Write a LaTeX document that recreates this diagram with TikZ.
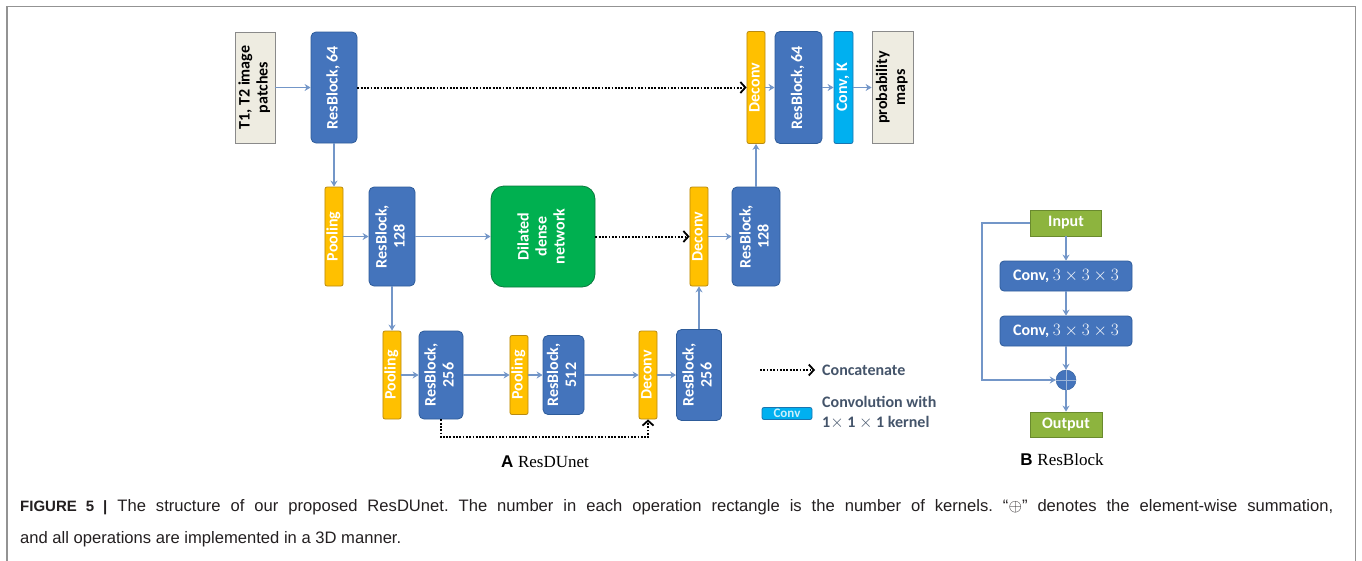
\documentclass[tikz,border=0pt]{standalone}
\usepackage{fontspec}
\setmainfont{Carlito}
\newfontfamily\capsans{Liberation Sans}
\newfontfamily\capserif{Liberation Serif}
\usepackage{graphicx}
\usetikzlibrary{arrows.meta,positioning}
\definecolor{blkfill}{HTML}{4474BC}
\definecolor{blkline}{HTML}{2E5C9A}
\definecolor{yelfill}{HTML}{FFC000}
\definecolor{yelline}{HTML}{B98A10}
\definecolor{dilfill}{HTML}{00B050}
\definecolor{dilline}{HTML}{0A7A3E}
\definecolor{cyfill}{HTML}{00B0F0}
\definecolor{cyline}{HTML}{1A75B0}
\definecolor{gryfill}{HTML}{EEECE1}
\definecolor{gryline}{HTML}{8A8A8A}
\definecolor{grnfill}{HTML}{8DB43E}
\definecolor{grnline}{HTML}{6A8A2E}
\definecolor{arrowc}{HTML}{7396C8}
\definecolor{legc}{HTML}{44546A}
\definecolor{captxt}{HTML}{231F20}
\newcommand{\rot}[1]{\rotatebox{90}{\renewcommand{\arraystretch}{0.95}\begin{tabular}{@{}c@{}}#1\end{tabular}}}

\begin{document}
\frenchspacing
\begin{tikzpicture}
[
    x = 1pt, y = -1pt,
    every node/.style = {inner sep = 0pt, font = \fontsize{16}{19}\selectfont\bfseries},
    wh/.style 2 args = {minimum width = #1pt, minimum height = #2pt},
    resblk/.style = {draw = blkline, fill = blkfill, text = white, line width = 0.8pt, rounded corners = 5pt},
    yelblk/.style = {draw = yelline, fill = yelfill, text = white, line width = 0.8pt, rounded corners = 2pt},
    convblk/.style = {draw = cyline, fill = cyfill, text = white, line width = 0.8pt, rounded corners = 2pt},
    grybox/.style = {draw = gryline, fill = gryfill, text = black, line width = 0.8pt},
    dilblk/.style = {draw = dilline, fill = dilfill, text = white, line width = 0.8pt, rounded corners = 13pt},
    grnblk/.style = {draw = grnline, fill = grnfill, text = white, line width = 0.8pt},
    flow/.style = {draw = arrowc, line width = 1.4pt, -{Stealth[length = 6pt, width = 7pt]}},
    concat/.style = {draw = black, line width = 2pt, dash pattern = on 1.8pt off 1.5pt, -{Straight Barb[length = 5pt, width = 11pt, line width = 1.8pt]}},
    legtext/.style = {text = legc, align = left}
]
\useasboundingbox (0,0) rectangle (1362,560);
\draw[gray!85, line width = 1.5pt] (7,570) -- (7,6.5) -- (1355.5,6.5) -- (1355.5,570);

% top row
\node[grybox, wh = {40}{111}] (inp) at (255,87.5) {\rot{T1, T2 image\\ patches}};
\node[resblk, wh = {46}{111}] (rb64a) at (334,87.5) {\rot{ResBlock, 64}};
\node[yelblk, wh = {18}{112}] (dcA) at (756,87.5) {\rot{Deconv}};
\node[resblk, wh = {47}{112}] (rb64b) at (798.5,87.5) {\rot{ResBlock, 64}};
\node[convblk, wh = {19}{112}] (convk) at (843.5,87.5) {\rot{Conv, K}};
\node[grybox, wh = {41}{112}] (prob) at (892.5,87.5) {\rot{probability\\ maps}};

% middle row
\node[yelblk, wh = {17}{99}] (poolA) at (334,236.5) {\rot{Pooling}};
\node[resblk, wh = {46}{99}] (rb128a) at (392,236.5) {\rot{ResBlock,\\ 128}};
\node[dilblk, wh = {104}{101}] (dil) at (543,236.5) {\rot{Dilated\\ dense\\ network}};
\node[yelblk, wh = {18}{99}] (dcB) at (699,236.5) {\rot{Deconv}};
\node[resblk, wh = {48}{99}] (rb128b) at (756,236.5) {\rot{ResBlock,\\ 128}};

% bottom row
\node[yelblk, wh = {18}{88}] (poolB) at (392,375) {\rot{Pooling}};
\node[resblk, wh = {44}{88}] (rb256a) at (441,375) {\rot{ResBlock,\\ 256}};
\node[yelblk, wh = {18}{79}] (poolC) at (519,375) {\rot{Pooling}};
\node[resblk, wh = {41}{79}] (rb512) at (563.5,375) {\rot{ResBlock,\\ 512}};
\node[yelblk, wh = {18}{88}] (dcC) at (648,375) {\rot{Deconv}};
\node[resblk, wh = {45}{91}] (rb256b) at (699,375) {\rot{ResBlock,\\ 256}};

\draw[flow] (inp) -- (rb64a);
\draw[concat] (rb64a) -- (dcA);
\draw[flow] (dcA) -- (rb64b);
\draw[flow] (rb64b) -- (convk);
\draw[flow] (convk) -- (prob);
\draw[flow] (rb64a) -- (poolA);
\draw[flow] (poolA) -- (rb128a);
\draw[flow] (rb128a) -- (dil);
\draw[concat] (dil) -- (dcB);
\draw[flow] (dcB) -- (rb128b);
\draw[flow] (rb128b) -- (dcA);
\draw[flow] (rb128a) -- (poolB);
\draw[flow] (poolB) -- (rb256a);
\draw[flow] (rb256a) -- (poolC);
\draw[flow] (poolC) -- (rb512);
\draw[flow] (rb512) -- (dcC);
\draw[flow] (dcC) -- (rb256b);
\draw[flow] (rb256b) -- (dcB);
\draw[concat] (rb256a.south) -- ++(0,18) -| (dcC.south);

\node[font = \fontsize{17}{20}\selectfont] (labA) at (545,462) {\capsans\bfseries A\ \capserif\mdseries ResDUnet};

% legend
\coordinate (lgA) at (760,370);
\coordinate (lgB) at (815,370);
\draw[concat] (lgA) -- (lgB);
\node[legtext, anchor = west] (lgcat) at (822,370) {Concatenate};
\node[convblk, wh = {50}{12}, font = \fontsize{13}{12}\selectfont\bfseries, text = white!80!cyfill] (lgconv) at (787,413.5) {Conv};
\node[legtext, anchor = west, font = \fontsize{16}{20}\selectfont\bfseries] (lgconvtxt) at (822,413) {Convolution with\\ 1$\times$ 1 $\times$ 1 kernel};

% ResBlock panel
\node[grnblk, wh = {71}{26}] (in) at (1066,223) {Input};
\node[resblk, wh = {132}{30}, rounded corners = 4pt] (c1) at (1066,276) {Conv, $3\times3\times3$};
\node[resblk, wh = {132}{30}, rounded corners = 4pt] (c2) at (1066,331) {Conv, $3\times3\times3$};
\node[circle, draw = blkline, fill = blkfill, minimum size = 20pt] (sum) at (1066,380) {};
\node[grnblk, wh = {72}{25}] (out) at (1066,424.5) {Output};
\coordinate (skip) at (982,380);
\draw[arrowc!70, line width = 1pt] (sum.north) -- (sum.south) (sum.west) -- (sum.east);
\draw[flow] (in) -- (c1);
\draw[flow] (c1) -- (c2);
\draw[flow] (c2) -- (sum);
\draw[flow] (sum) -- (out);
\draw[flow] (in.west) -| (skip) -- (sum.west);

\node[font = \fontsize{17}{20}\selectfont] (labB) at (1062,460) {\capsans\bfseries B\ \capserif\mdseries ResBlock};

% caption
\node[anchor = base west, text = captxt, font = \capsans\fontsize{16.6}{19}\selectfont] (cap1) at (20,511) {\makebox[1313pt][s]{{\fontsize{15}{18}\selectfont\bfseries FIGURE 5 |} The structure of our proposed ResDUnet. The number in each operation rectangle is the number of kernels. “$\oplus$” denotes the element-wise summation,}};
\node[anchor = base west, text = captxt, font = \capsans\fontsize{16.6}{19}\selectfont] (cap2) at (20,543) {and all operations are implemented in a 3D manner.};
\end{tikzpicture}
\end{document}
